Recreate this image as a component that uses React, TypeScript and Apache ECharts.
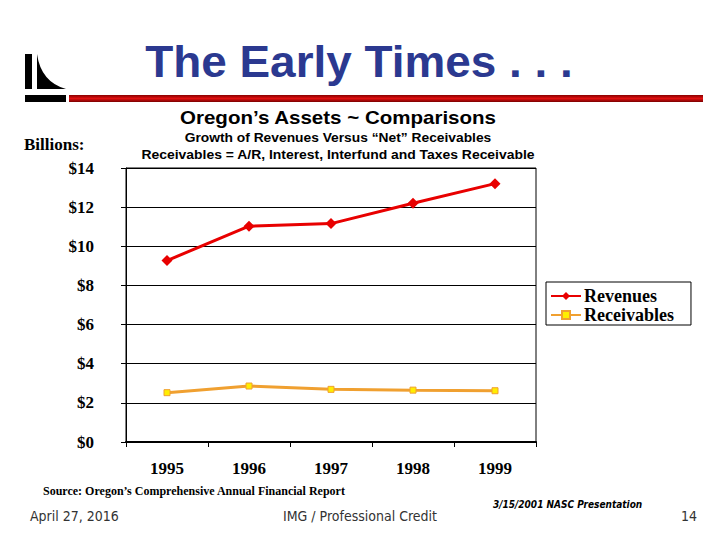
import React, { useEffect, useRef } from "react";
import * as echarts from "echarts";

const years = ["1995", "1996", "1997", "1998", "1999"];
const revenues = [9.27, 11.03, 11.16, 12.2, 13.2];
const receivables = [2.52, 2.86, 2.69, 2.65, 2.62];

echarts.graphic.registerShape(
  "logoTri",
  echarts.graphic.extendPath("M0,0 Q4,28 29,35 L0,35 Z", {})
);

export default function App() {
  const ref = useRef<HTMLDivElement>(null);
  useEffect(() => {
    const chart = echarts.init(ref.current!, null, { renderer: "svg" });
    const serif = "'Liberation Serif', 'Times New Roman', serif";
    chart.setOption({
      animation: false,
      backgroundColor: "#ffffff",
      grid: {
        left: 126,
        right: 184,
        top: 168,
        bottom: 98,
        show: true,
        borderColor: "#000",
        borderWidth: 1,
      },
      legend: {
        orient: "vertical",
        left: 546,
        top: 282,
        width: 145,
        itemWidth: 30,
        itemHeight: 10,
        itemGap: 1,
        padding: [5, 17, 1, 4],
        borderColor: "#000",
        borderWidth: 1,
        textStyle: { fontFamily: serif, fontWeight: "bold", fontSize: 18, color: "#000", padding: [0, 0, 0, -2] },
        data: ["Revenues", "Receivables"],
      },
      xAxis: {
        type: "category",
        data: years,
        boundaryGap: true,
        axisLine: { lineStyle: { color: "#000", width: 2 } },
        axisTick: { show: true, length: 5, lineStyle: { color: "#000" } },
        axisLabel: {
          margin: 18,
          fontFamily: serif,
          fontWeight: "bold",
          fontSize: 17,
          color: "#000",
        },
      },
      yAxis: {
        type: "value",
        min: 0,
        max: 14,
        interval: 2,
        axisLine: { show: true, lineStyle: { color: "#000" } },
        axisTick: { show: true, length: 5, lineStyle: { color: "#000" } },
        splitLine: { lineStyle: { color: "#000", width: 1 } },
        axisLabel: {
          margin: 32,
          fontFamily: serif,
          fontWeight: "bold",
          fontSize: 17,
          color: "#000",
          padding: [4, 0, 0, 0],
          formatter: (v: number) => "$" + v,
        },
      },
      series: [
        {
          name: "Revenues",
          type: "line",
          data: revenues,
          symbol: "diamond",
          symbolSize: 11,
          lineStyle: { color: "#e80000", width: 3 },
          itemStyle: { color: "#e80000" },
        },
        {
          name: "Receivables",
          type: "line",
          data: receivables,
          symbol: "rect",
          symbolSize: 6,
          lineStyle: { color: "#f0a030", width: 3 },
          itemStyle: { color: "#ffee00", borderColor: "#f0a030", borderWidth: 1 },
        },
      ],
      graphic: [
        { type: "rect", shape: { x: 25, y: 54, width: 7, height: 35 }, style: { fill: "#000" } },
        { type: "logoTri", x: 37, y: 54, style: { fill: "#000" } },
        { type: "rect", shape: { x: 25, y: 95, width: 41, height: 7 }, style: { fill: "#000" } },
        {
          type: "rect",
          shape: { x: 69, y: 95, width: 634, height: 7 },
          style: {
            fill: new echarts.graphic.LinearGradient(0, 0, 0, 1, [
              { offset: 0, color: "#8a0000" },
              { offset: 0.5, color: "#e01010" },
              { offset: 1, color: "#7a0000" },
            ]),
          },
        },
        {
          type: "text",
          x: 359,
          y: 62,
          scaleX: 1.02,
          style: {
            text: "The Early Times . . .",
            fill: "#2b3990",
            font: "bold 45px 'Liberation Sans', Arial, sans-serif",
            align: "center",
            verticalAlign: "middle",
          },
        },
        {
          type: "text",
          x: 338,
          y: 118,
          scaleX: 1.14,
          style: {
            text: "Oregon\u2019s Assets ~ Comparisons",
            fill: "#000",
            font: "bold 18px 'Liberation Sans', Arial, sans-serif",
            align: "center",
            verticalAlign: "middle",
          },
        },
        {
          type: "text",
          x: 338,
          y: 138,
          scaleX: 1.15,
          style: {
            text: "Growth of Revenues Versus \u201cNet\u201d Receivables",
            fill: "#000",
            font: "bold 12px 'Liberation Sans', Arial, sans-serif",
            align: "center",
            verticalAlign: "middle",
          },
        },
        {
          type: "text",
          x: 338,
          y: 155,
          scaleX: 1.16,
          style: {
            text: "Receivables = A/R, Interest, Interfund and Taxes Receivable",
            fill: "#000",
            font: "bold 12px 'Liberation Sans', Arial, sans-serif",
            align: "center",
            verticalAlign: "middle",
          },
        },
        {
          type: "text",
          x: 24,
          y: 144,
          style: {
            text: "Billions:",
            fill: "#000",
            font: "bold 17px " + serif,
            align: "left",
            verticalAlign: "middle",
          },
        },
        {
          type: "text",
          x: 43,
          y: 491,
          style: {
            text: "Source: Oregon\u2019s Comprehensive Annual Financial Report",
            fill: "#000",
            font: "bold 12px " + serif,
            align: "left",
            verticalAlign: "middle",
          },
        },
        {
          type: "text",
          x: 493,
          y: 504,
          style: {
            text: "3/15/2001 NASC Presentation",
            fill: "#000",
            font: "italic bold 10px 'DejaVu Sans Condensed', sans-serif",
            align: "left",
            verticalAlign: "middle",
          },
        },
        {
          type: "text",
          x: 30,
          y: 516,
          style: {
            text: "April 27, 2016",
            fill: "#333",
            font: "14px 'DejaVu Sans Condensed', sans-serif",
            align: "left",
            verticalAlign: "middle",
          },
        },
        {
          type: "text",
          x: 360,
          y: 516,
          style: {
            text: "IMG / Professional Credit",
            fill: "#333",
            font: "14px 'DejaVu Sans Condensed', sans-serif",
            align: "center",
            verticalAlign: "middle",
          },
        },
        {
          type: "text",
          x: 697,
          y: 516,
          style: {
            text: "14",
            fill: "#333",
            font: "14px 'DejaVu Sans Condensed', sans-serif",
            align: "right",
            verticalAlign: "middle",
          },
        },
      ],
    });
    return () => chart.dispose();
  }, []);
  return (
    <div
      ref={ref}
      style={{ position: "fixed", left: 0, top: 0, width: 720, height: 540 }}
    />
  );
}
